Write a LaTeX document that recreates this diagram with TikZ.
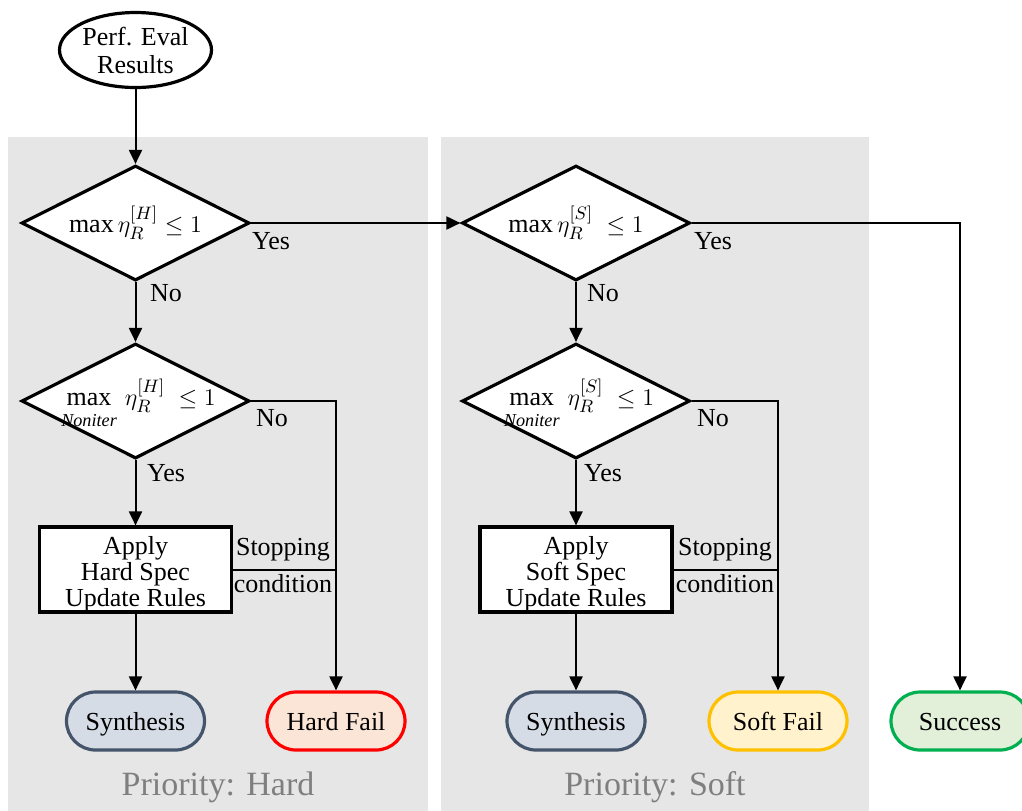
\documentclass[tikz,border=0pt]{standalone}
\usepackage{fontspec}
\setmainfont{Liberation Serif}
\usetikzlibrary{shapes.geometric,arrows.meta}
\definecolor{panelgray}{HTML}{E6E6E6}
\definecolor{captiongray}{HTML}{7F7F7F}
\definecolor{synfill}{HTML}{D6DCE5}
\definecolor{synline}{HTML}{44546A}
\definecolor{hardfill}{HTML}{FBE5D6}
\definecolor{hardline}{HTML}{FF0000}
\definecolor{softfill}{HTML}{FFF2CC}
\definecolor{softline}{HTML}{FFC000}
\definecolor{okfill}{HTML}{E2F0D9}
\definecolor{okline}{HTML}{00B050}
% tall strut for the first line of a process box
\newcommand\firststrut{\rule{0pt}{13.5pt}}
% max over non-iterative specs, limit set a little lower
\newcommand\maxnoniter{\max\limits_{\rule{0pt}{8.5pt}\mathit{Noniter}}}
\begin{document}
\begin{tikzpicture}[x=0.5pt,y=-0.5pt,
  font=\fontsize{13}{13}\selectfont,
  panel/.style={fill=panelgray, draw=none},
  startnode/.style={ellipse, draw, line width=1.6pt, fill=white, minimum width=76pt, minimum height=37.5pt, inner sep=0pt, align=center},
  decision/.style={diamond, draw, line width=1.6pt, fill=white, inner sep=0pt, minimum width=114pt, minimum height=57.5pt},
  process/.style={rectangle, draw, line width=1.6pt, fill=white, minimum width=96pt, minimum height=42.5pt, inner sep=0pt, align=center},
  terminal/.style={rectangle, rounded corners=14.5pt, line width=1.6pt, minimum width=69pt, minimum height=29pt, inner sep=0pt, text height=11pt, text depth=2pt},
  flow/.style={line width=1pt, -{Triangle[width=6.5pt,length=7pt]}},
  link/.style={line width=1pt},
  note/.style={inner sep=0pt},
  caption/.style={text=captiongray, font=\fontsize{17}{20}\selectfont, inner sep=0pt}
]
\useasboundingbox (0,0) rectangle (1022,810);

% priority panels
\fill[panel] (8,137) rectangle (428,812);
\fill[panel] (441,137) rectangle (869,812);

% start
\node[startnode] (start) at (135.5,50) {Perf. Eval\\[1pt]Results};

% hard priority column
\node[decision, label={center:$\max\eta_R^{[H]}\le 1$}] (hd1) at (135.5,223) {};
\node[decision, label={[xshift=1.5pt,yshift=-1.5pt]center:$\maxnoniter\,\eta_R^{[H]}\;\le 1$}] (hd2) at (135.5,401) {};
\node[process] (hbox) at (135.5,569.5) {\firststrut Apply\\Hard Spec\\Update Rules};
\node[terminal, draw=synline, fill=synfill] (hsyn) at (135.5,721) {Synthesis};
\node[terminal, draw=hardline, fill=hardfill] (hfail) at (336,721) {Hard Fail};

% soft priority column
\node[decision, label={center:$\max\eta_R^{[S]}\;\le 1$}] (sd1) at (576,223) {};
\node[decision, label={[xshift=1.5pt,yshift=-1.5pt]center:$\maxnoniter\,\eta_R^{[S]}\;\le 1$}] (sd2) at (576,401) {};
\node[process] (sbox) at (576,569.5) {\firststrut Apply\\Soft Spec\\Update Rules};
\node[terminal, draw=synline, fill=synfill] (ssyn) at (576,721) {Synthesis};
\node[terminal, draw=softline, fill=softfill] (sfail) at (778,721) {Soft Fail};

% overall success
\node[terminal, draw=okline, fill=okfill] (succ) at (960,721) {Success};

% connectors, hard column
\draw[flow] (start) -- (hd1);
\draw[flow] (hd1.east) -- (sd1.west);
\draw[flow] (hd1) -- (hd2);
\draw[flow] (hd2) -- (hbox);
\draw[flow] (hbox) -- (hsyn);
\draw[flow] (hd2.east) -| (hfail.north);
\draw[link] (hbox.east) -- (hbox.east -| hfail.north);

% connectors, soft column
\draw[flow] (sd1) -- (sd2);
\draw[flow] (sd2) -- (sbox);
\draw[flow] (sbox) -- (ssyn);
\draw[flow] (sd2.east) -| (sfail.north);
\draw[link] (sbox.east) -- (sbox.east -| sfail.north);
\draw[flow] (sd1.east) -| (succ.north);

% branch labels
\node[note] (hyes1) at (271,241) {Yes};
\node[note] (hno1) at (166,293) {No};
\node[note] (hno2) at (272,418) {No};
\node[note] (hyes2) at (166,473) {Yes};
\node[note] (hstop) at (283,550) {Stopping};
\node[note] (hcond) at (283,584) {condition};

\node[note] (syes1) at (713,241) {Yes};
\node[note] (sno1) at (603,293) {No};
\node[note] (sno2) at (713,418) {No};
\node[note] (syes2) at (603,473) {Yes};
\node[note] (sstop) at (725,550) {Stopping};
\node[note] (scond) at (725,584) {condition};

% panel captions
\node[caption] (hcap) at (218,787) {Priority: Hard};
\node[caption] (scap) at (655,787) {Priority: Soft};
\end{tikzpicture}
\end{document}
